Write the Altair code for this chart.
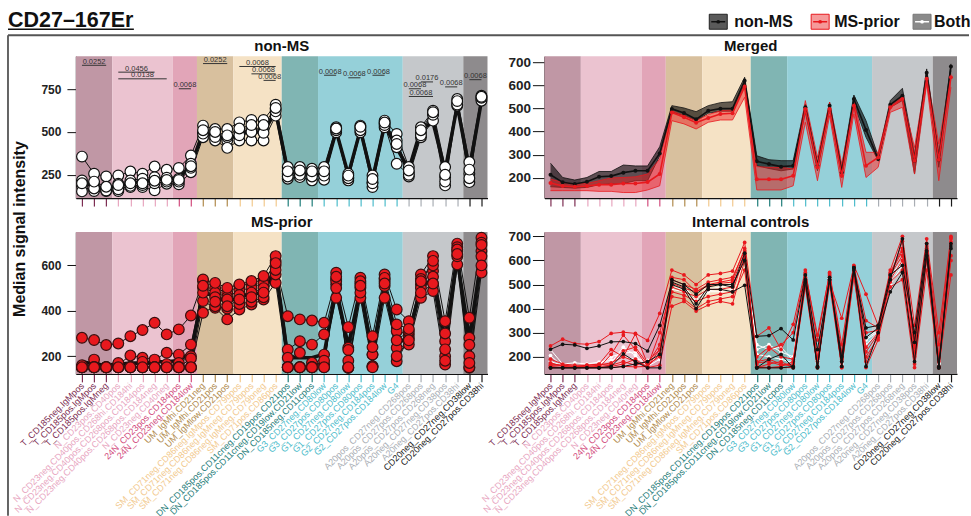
import json
import altair as alt
import pandas as pd

FONT = "Liberation Sans"

# ---------------- categories ----------------
CATS = [
    "T_CD185neg.IgMpos", "T_CD185pos.IgMpos", "T_CD185pos.IgMneg",
    "N_CD23pos.CD40pos", "N_CD23neg.CD40pos.CD268hi.CD184hi", "N_CD23neg.CD40pos.CD268pos.CD184pos",
    "N_CD23neg.CD40pos.CD268pos.CD184neg", "N_CD23neg.CD40neg",
    "24N_CD23pos.CD184pos", "24N_CD23neg.CD184low",
    "UM_IgMhi.CD21neg", "UM_IgMhi.CD21pos", "UM_IgMlow.CD21pos",
    "SM_CD71neg.CD86neg.IgMpos.CD79bpos", "SM_CD71neg.CD86neg.IgMneg.CD79bpos",
    "SM_CD71neg.CD86neg.IgMneg.CD79bneg", "SM_CD71pos.CD86pos",
    "DN_CD185pos.CD11cneg.CD19pos.CD21pos", "DN_CD185pos.CD11cneg.CD19low.CD21low", "DN_CD185neg.CD11cpos",
    "G3_CD27neg.CD80low", "G3_CD27pos.CD80pos", "G1_CD27neg.CD80low", "G1_CD27pos.CD80pos",
    "G2_CD27neg.CD184pos", "G2_CD27pos.CD184low", "G4",
    "A20pos_CD27neg.CD268pos", "A20pos_CD27pos.CD268pos", "A20pos_CD27pos.CD268neg",
    "A20neg_CD27neg.CD38pos", "A20neg_CD27pos.CD38hi",
    "CD20neg_CD27neg.CD38low", "CD20neg_CD27pos.CD38hi",
]
GROUP_NAMES = ["T", "N", "24N", "UM", "SM", "DN", "G", "A20", "CD20neg"]
GROUP_SIZES = [3, 5, 2, 3, 4, 3, 7, 5, 2]
GROUP_BG = ["#C097A5", "#EBC3D0", "#E2A5B8", "#D8C09E", "#F5E2C5", "#80B5B3", "#95D0D9", "#C5C8CB", "#8E8B8D"]
GROUP_FG = ["#7D2D52", "#E8A6BF", "#D24D7E", "#B08A4C", "#F2C98E", "#1F7D7A", "#4DBCCB", "#A9AEB4", "#1A1A1A"]

# ---------------- non-MS subjects ----------------
NONMS = {
    "a": [356, 256, 240, 246, 269, 256, 298, 279, 290, 362, 537, 517, 517, 556, 570, 570, 659,
          295, 295, 285, 295, 527, 256, 537, 246, 566, 488, 295, 527, 624, 295, 692, 324, 711],
    "b": [217, 198, 163, 198, 217, 227, 236, 233, 227, 314, 498, 479, 450, 498, 517, 517, 634,
          256, 265, 256, 256, 517, 236, 523, 207, 550, 450, 265, 498, 605, 236, 672, 256, 692],
    "c": [182, 155, 155, 155, 178, 178, 159, 198, 194, 265, 469, 450, 407, 450, 450, 450, 595,
          227, 236, 217, 221, 498, 217, 498, 178, 527, 411, 240, 469, 566, 188, 653, 207, 682],
    "d": [153, 170, 158, 165, 185, 190, 200, 210, 210, 290, 490, 470, 470, 480, 500, 495, 620,
          240, 250, 240, 245, 510, 230, 510, 200, 540, 314, 250, 480, 600, 210, 660, 230, 700],
    "e": [200, 210, 180, 190, 200, 200, 215, 220, 220, 300, 510, 500, 480, 520, 540, 540, 640,
          270, 275, 270, 270, 520, 245, 530, 225, 555, 430, 275, 510, 615, 250, 680, 280, 705],
}

# ---------------- MS-prior subjects ----------------
MSPRIOR = {
    "m1": [281, 271, 249, 256, 288, 315, 347, 296, 318, 379, 531, 500, 480, 510, 520, 540, 600,
           376, 362, 357, 347, 540, 328, 546, 288, 560, 406, 354, 560, 641, 354, 696, 369, 722],
    "m2": [151, 185, 151, 163, 203, 193, 185, 215, 207, 251, 501, 480, 460, 490, 500, 520, 620,
           229, 266, 251, 296, 516, 237, 501, 207, 509, 310, 296, 516, 575, 266, 663, 281, 663],
    "m3": [151, 151, 151, 151, 151, 151, 151, 151, 170, 200, 538, 523, 501, 516, 531, 553, 641,
           193, 215, 171, 163, 568, 149, 457, 156, 457, 237, 251, 457, 487, 163, 604, 149, 568],
    "m4": [151, 151, 151, 151, 151, 151, 151, 151, 151, 151, 443, 413, 362, 406, 428, 450, 523,
           151, 151, 151, 207, 457, 227, 520, 156, 540, 178, 280, 540, 600, 300, 680, 200, 700],
    "m5": [151, 151, 151, 151, 151, 151, 151, 151, 151, 151, 391, 420, 410, 430, 440, 460, 560,
           151, 151, 151, 151, 531, 149, 480, 207, 530, 270, 310, 500, 550, 200, 640, 151, 690],
    "m6": [160, 151, 151, 170, 151, 175, 151, 165, 151, 190, 480, 460, 450, 470, 480, 500, 580,
           151, 151, 151, 180, 500, 180, 530, 240, 545, 340, 320, 530, 620, 230, 670, 250, 640],
    "m7": [151, 151, 151, 151, 151, 151, 151, 151, 151, 151, 510, 440, 420, 450, 460, 480, 610,
           151, 151, 151, 151, 550, 151, 510, 151, 520, 200, 270, 480, 520, 180, 650, 170, 600],
}

# ---------------- merged summaries ----------------
NM_MED = [213, 180, 173, 183, 204, 207, 222, 230, 230, 305, 498, 480, 453, 490, 499, 499, 620,
          271, 259, 248, 252, 505, 252, 512, 223, 541, 407, 281, 516, 555, 274, 654, 278, 681]
NM_LO = [161, 158, 155, 158, 170, 173, 175, 187, 187, 295, 483, 469, 447, 479, 488, 488, 606,
         252, 240, 230, 238, 483, 230, 498, 201, 519, 375, 274, 505, 534, 216, 635, 245, 664]
NM_HI = [263, 201, 190, 201, 227, 227, 255, 251, 251, 334, 512, 502, 486, 512, 525, 529, 635,
         295, 278, 274, 274, 519, 266, 527, 245, 558, 447, 295, 534, 587, 303, 671, 303, 693]
MS_MED = [177, 164, 161, 164, 170, 170, 175, 175, 181, 216, 482, 462, 438, 459, 476, 479, 594,
          193, 193, 193, 209, 498, 245, 498, 209, 512, 252, 288, 505, 541, 274, 628, 278, 635]
MS_LO = [144, 144, 144, 144, 141, 141, 136, 136, 147, 165, 447, 433, 411, 440, 450, 450, 548,
         147, 147, 147, 165, 440, 187, 469, 158, 476, 201, 245, 483, 505, 216, 606, 187, 592]
MS_HI = [194, 180, 173, 175, 187, 199, 201, 204, 216, 281, 490, 469, 447, 473, 490, 493, 613,
         248, 245, 245, 238, 534, 288, 527, 259, 534, 310, 310, 516, 548, 331, 650, 346, 650]

# ---------------- internal controls ----------------
IC_RED = {
    "r1": [245, 273, 255, 252, 263, 297, 302, 297, 268, 380, 560, 540, 500, 540, 546, 556, 675,
           285, 320, 230, 335, 560, 270, 550, 250, 580, 460, 330, 560, 700, 330, 690, 300, 700],
    "r2": [165, 165, 160, 165, 168, 170, 225, 240, 170, 200, 520, 500, 480, 510, 520, 530, 640,
           160, 155, 160, 180, 540, 200, 540, 180, 570, 300, 310, 540, 620, 250, 650, 160, 690],
    "r3": [155, 155, 155, 155, 155, 160, 170, 190, 155, 165, 410, 430, 390, 415, 430, 420, 600,
           180, 190, 170, 160, 520, 160, 530, 160, 560, 180, 290, 510, 560, 200, 600, 155, 600],
    "r4": [175, 160, 158, 158, 155, 155, 160, 158, 160, 230, 470, 455, 430, 450, 460, 470, 620,
           155, 155, 155, 155, 500, 155, 520, 155, 550, 155, 270, 490, 520, 155, 560, 155, 540],
    "r5": [160, 155, 155, 155, 155, 210, 290, 230, 160, 300, 490, 470, 450, 480, 480, 490, 610,
           200, 240, 200, 190, 530, 180, 510, 360, 575, 240, 300, 530, 680, 240, 660, 200, 680],
    "r6": [190, 170, 165, 165, 170, 230, 200, 295, 170, 250, 530, 520, 470, 500, 510, 520, 650,
           170, 230, 250, 300, 550, 290, 545, 220, 575, 350, 320, 550, 650, 280, 670, 250, 695],
    "r7": [155, 155, 155, 158, 160, 165, 180, 165, 180, 230, 450, 440, 400, 430, 440, 450, 560,
           155, 170, 180, 155, 490, 155, 500, 155, 530, 200, 280, 520, 600, 170, 620, 155, 620],
    "r8": [170, 165, 160, 160, 165, 175, 200, 180, 160, 210, 505, 485, 470, 495, 505, 510, 630,
           175, 180, 165, 170, 545, 190, 535, 190, 565, 220, 295, 545, 640, 220, 640, 180, 670],
}
IC_WHITE = {
    "w1": [230, 170, 175, 170, 178, 185, 200, 190, 185, 210, 500, 490, 440, 480, 490, 500, 630,
           230, 250, 220, 200, 540, 200, 520, 200, 560, 280, 310, 530, 600, 280, 650, 180, 680],
    "w2": [205, 160, 160, 160, 160, 175, 240, 205, 160, 190, 480, 470, 420, 470, 470, 480, 600,
           210, 200, 190, 175, 520, 175, 530, 170, 555, 250, 300, 500, 580, 250, 640, 170, 660],
    "w3": [180, 165, 165, 165, 170, 200, 215, 220, 175, 200, 490, 480, 430, 475, 480, 490, 615,
           250, 230, 240, 185, 530, 185, 525, 190, 560, 270, 305, 520, 590, 260, 645, 175, 670],
}
IC_BLACK = {
    "b1": [231, 252, 249, 235, 245, 262, 263, 255, 224, 330, 510, 490, 420, 490, 500, 490, 630,
           285, 288, 317, 270, 540, 230, 520, 200, 570, 280, 320, 520, 690, 260, 640, 160, 660],
    "b2": [154, 154, 154, 154, 154, 154, 160, 170, 180, 210, 500, 480, 400, 480, 480, 470, 497,
           154, 190, 210, 154, 520, 154, 530, 160, 570, 160, 300, 470, 550, 180, 620, 154, 650],
    "b3": [154, 154, 154, 154, 154, 160, 212, 180, 154, 154, 520, 500, 460, 500, 500, 500, 600,
           154, 154, 154, 160, 510, 160, 520, 180, 560, 320, 330, 540, 580, 300, 670, 154, 670],
}

# ---------------- p-value annotations (non-MS) ----------------
PV_TEXT = ["0.0252", "0.0456", "0.0138", "0.0068", "0.0252", "0.0068", "0.0068", "0.0068",
           "0.0068", "0.0068", "0.0068", "0.0176", "0.0068", "0.0068", "0.0068", "0.0068"]
PV_FROM = [1, 4, 4, 9, 11, 14, 15, 16, 21, 23, 25, 29, 28, 28, 31, 33]
PV_TO = [3, 7, 8, 10, 13, 17, 17, 17, 22, 24, 26, 30, 29, 30, 32, 34]
PV_Y = [889, 849, 810, 752, 899, 882, 839, 801, 831, 816, 831, 792, 752, 707, 763, 805]

# ---------------- derived tables ----------------
IDX = list(range(1, len(CATS) + 1))
grp_of = []
for g, n in enumerate(GROUP_SIZES):
    grp_of += [g] * n
LABEL_COLORS = [GROUP_FG[g] for g in grp_of]

bg_rows, start = [], 0.5
for name, n in zip(GROUP_NAMES, GROUP_SIZES):
    bg_rows.append({"g": name, "x0": start, "x1": start + n})
    start += n
bg_df = pd.DataFrame(bg_rows)


def long_df(d):
    rows = []
    for k, vals in d.items():
        for i, v in zip(IDX, vals):
            rows.append({"s": k, "i": i, "v": v})
    return pd.DataFrame(rows)


nonms_df = long_df(NONMS)
ms_df = long_df(MSPRIOR)
merged_df = pd.DataFrame({"i": IDX, "nm_med": NM_MED, "nm_lo": NM_LO, "nm_hi": NM_HI,
                          "ms_med": MS_MED, "ms_lo": MS_LO, "ms_hi": MS_HI})
icr_df, icw_df, icb_df = long_df(IC_RED), long_df(IC_WHITE), long_df(IC_BLACK)
pv_df = pd.DataFrame({"t": PV_TEXT, "a": PV_FROM, "b": PV_TO, "y": PV_Y})
ONE = pd.DataFrame({"k": [0]})

# ---------------- scales / axes ----------------
X_SCALE = alt.Scale(domain=[0.5, 34.5], nice=False, zero=False)
LAB_JS = json.dumps(CATS)
COL_JS = json.dumps(LABEL_COLORS)
H = 142
W_L, W_R = 412, 413


def x_axis(show):
    return alt.Axis(values=IDX, labels=show, labelExpr=f"{LAB_JS}[datum.value - 1]",
                    labelAngle=-45, labelAlign="right", labelBaseline="middle",
                    labelColor={"expr": f"{COL_JS}[datum.value - 1]"},
                    tickColor={"expr": f"{COL_JS}[datum.value - 1]"},
                    labelFont=FONT, labelFontSize=9, labelOverlap=False, labelLimit=400,
                    labelPadding=2, labelFlush=False, tickSize=8, tickWidth=1.2,
                    domainColor="#111", domainWidth=1.2, grid=False, title=None)


def y_axis(vals, left):
    return alt.Axis(values=vals, title=None, grid=False, labelFont=FONT, labelFontWeight="bold",
                    labelFontSize=12 if left else 13.5, labelColor="#222", tickColor="#111",
                    tickSize=9 if left else 12, labelPadding=6 if left else 2,
                    domainColor="#111", domainWidth=1.2)


def enc_factory(bottom, dom, vals, left):
    def X(f):
        return alt.X(f, type="quantitative", scale=X_SCALE, axis=x_axis(bottom))

    def Y(f):
        return alt.Y(f, type="quantitative", scale=alt.Scale(domain=dom, nice=False, zero=False),
                     axis=y_axis(vals, left))
    return X, Y


def background(X):
    return alt.Chart(bg_df).mark_rect().encode(
        x=X("x0"), x2=alt.X2("x1"), y=alt.value(0), y2=alt.value(H),
        color=alt.Color("g:N", scale=alt.Scale(domain=GROUP_NAMES, range=GROUP_BG), legend=None))


def rule(x, x2, y, y2, color, w):
    return alt.Chart(ONE).mark_rule(color=color, strokeWidth=w, clip=False).encode(
        x=alt.value(x), x2=alt.value(x2), y=alt.value(y), y2=alt.value(y2))


def label(text, x, y, size, **kw):
    return alt.Chart(ONE).mark_text(text=text, font=FONT, fontSize=size, fontWeight="bold",
                                    color="#111", clip=False, **kw).encode(x=alt.value(x), y=alt.value(y))


def panel_title(text, w):
    return label(text, w / 2, -5, 15, align="center", baseline="alphabetic")


# ---------------- panel: non-MS ----------------
X, Y = enc_factory(False, [114, 942], [250, 500, 750], True)
nm_layers = [
    background(X),
    alt.Chart(nonms_df).mark_line(color="#111", strokeWidth=1).encode(x=X("i"), y=Y("v"), detail="s:N"),
    alt.Chart(merged_df).mark_line(color="#111", strokeWidth=3.5).encode(x=X("i"), y=Y("nm_med")),
    alt.Chart(nonms_df).mark_point(shape="circle", filled=True, size=115, fill="white", stroke="#111",
                                   strokeWidth=1.2, opacity=1).encode(x=X("i"), y=Y("v")),
    alt.Chart(pv_df).mark_rule(color="#333", strokeWidth=1).encode(x=X("a"), x2=alt.X2("b"), y=Y("y")),
    alt.Chart(pv_df).transform_calculate(m="(datum.a + datum.b) / 2").mark_text(
        font=FONT, fontSize=7.5, color="#333", baseline="alphabetic", dy=-1.5).encode(
        x=X("m"), y=Y("y"), text="t:N"),
    # decorations: frame, title, y title, top bound
    rule(-68, 894, -55, -55, "white", 1),
    rule(-68, 894, -21, -21, "#555", 1.8),
    rule(-68, -68, -21, 460, "#555", 1.8),
    label("CD27\u2013167Er", -68, -29, 21.5, align="left", baseline="alphabetic"),
    rule(-68, 58, -27, -27, "#111", 1.6),
    label("Median signal intensity", -56, 173, 16, align="center", baseline="middle", angle=270),
    panel_title("non-MS", W_L),
]
p_nonms = alt.layer(*nm_layers).properties(width=W_L, height=H)

# ---------------- panel: Merged ----------------
X, Y = enc_factory(False, [112, 726], [200, 300, 400, 500, 600, 700], False)
leg = []
for (name, fill, stroke, mark, bx, tx) in [
        ("non-MS", "#5A5A5A", "#222", "#111", 165, 190),
        ("MS-prior", "#F59A9A", "#E8191E", "#E8191E", 267, 290),
        ("Both", "#8A8A8A", "#777", "white", 369, 390)]:
    leg.append(alt.Chart(ONE).mark_rect(fill=fill, stroke=stroke, strokeWidth=1, clip=False).encode(
        x=alt.value(bx), x2=alt.value(bx + 18), y=alt.value(-42), y2=alt.value(-27)))
    leg.append(rule(bx + 2, bx + 16, -34.5, -34.5, mark, 1.5))
    leg.append(alt.Chart(ONE).mark_point(shape="circle", filled=True, size=14, color=mark, opacity=1,
                                         clip=False).encode(x=alt.value(bx + 9), y=alt.value(-34.5)))
    leg.append(label(name, tx, -34.5, 16, align="left", baseline="middle"))

mg_layers = [
    background(X),
    alt.Chart(merged_df).mark_area(color="black", opacity=0.6).encode(x=X("i"), y=Y("nm_lo"), y2=alt.Y2("nm_hi")),
    alt.Chart(merged_df).mark_line(color="#111", strokeWidth=0.8).encode(x=X("i"), y=Y("nm_lo")),
    alt.Chart(merged_df).mark_line(color="#111", strokeWidth=0.8).encode(x=X("i"), y=Y("nm_hi")),
    alt.Chart(merged_df).mark_area(color="#EE2424", opacity=0.5).encode(x=X("i"), y=Y("ms_lo"), y2=alt.Y2("ms_hi")),
    alt.Chart(merged_df).mark_line(color="#E8191E", strokeWidth=0.8).encode(x=X("i"), y=Y("ms_lo")),
    alt.Chart(merged_df).mark_line(color="#E8191E", strokeWidth=0.8).encode(x=X("i"), y=Y("ms_hi")),
    alt.Chart(merged_df).mark_line(color="#111", strokeWidth=1.6).encode(x=X("i"), y=Y("nm_med")),
    alt.Chart(merged_df).mark_point(shape="circle", filled=True, size=16, color="#111", opacity=1).encode(
        x=X("i"), y=Y("nm_med")),
    alt.Chart(merged_df).mark_line(color="#E8191E", strokeWidth=1.6).encode(x=X("i"), y=Y("ms_med")),
    alt.Chart(merged_df).mark_point(shape="circle", filled=True, size=16, color="#E8191E", opacity=1).encode(
        x=X("i"), y=Y("ms_med")),
    panel_title("Merged", W_R),
] + leg
p_merged = alt.layer(*mg_layers).properties(width=W_R, height=H)

# ---------------- panel: MS-prior ----------------
X, Y = enc_factory(True, [122, 747], [200, 400, 600], True)
ms_layers = [
    background(X),
    alt.Chart(ms_df).mark_line(color="#111", strokeWidth=1).encode(x=X("i"), y=Y("v"), detail="s:N"),
    alt.Chart(merged_df).mark_line(color="#111", strokeWidth=3.5).encode(x=X("i"), y=Y("ms_med")),
    alt.Chart(ms_df).mark_point(shape="circle", filled=True, size=115, fill="#E8191E", stroke="#3A1010",
                                strokeWidth=1.2, opacity=1).encode(x=X("i"), y=Y("v")),
    panel_title("MS-prior", W_L),
]
p_ms = alt.layer(*ms_layers).properties(width=W_L, height=H)

# ---------------- panel: Internal controls ----------------
X, Y = enc_factory(True, [129, 718], [200, 300, 400, 500, 600, 700], False)
ic_layers = [background(X)]
for df, c in [(icw_df, "white"), (icr_df, "#E8191E"), (icb_df, "#111")]:
    ic_layers.append(alt.Chart(df).mark_line(color=c, strokeWidth=1).encode(x=X("i"), y=Y("v"), detail="s:N"))
    ic_layers.append(alt.Chart(df).mark_point(shape="circle", filled=True, size=14, color=c, opacity=1).encode(
        x=X("i"), y=Y("v")))
ic_layers.append(panel_title("Internal controls", W_R))
p_ic = alt.layer(*ic_layers).properties(width=W_R, height=H)

chart = alt.concat(p_nonms, p_merged, p_ms, p_ic, columns=2,
                   spacing={"row": 34, "column": 57}, bounds="flush").properties(
    padding={"left": 7, "top": 0, "right": 0, "bottom": 0}, background="white"
).configure_view(strokeWidth=0)

chart.save("out.html", embed_options={"renderer": "svg", "actions": False})
